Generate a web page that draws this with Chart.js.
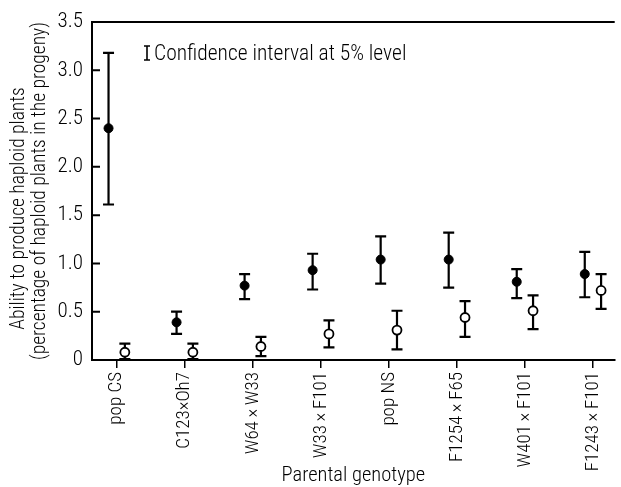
<!DOCTYPE html>
<html>
<head>
<meta charset="utf-8">
<script src="https://cdn.jsdelivr.net/npm/chart.js@4.4.1/dist/chart.umd.min.js"></script>
<style>
  html, body { margin: 0; padding: 0; background: #fff; }
</style>
</head>
<body>
<canvas id="chart" width="621" height="487"></canvas>
<script>
// genotypes along the x axis
const categories = ["pop CS", "C123×Oh7", "W64\u2009×\u2009W33", "W33\u2009×\u2009F101", "pop NS", "F1254\u2009×\u2009F65", "W401\u2009×\u2009F101", "F1243\u2009×\u2009F101"];

// filled dots
const filledMean = [2.40, 0.39, 0.77, 0.93, 1.04, 1.04, 0.81, 0.89];
const filledLow  = [1.61, 0.27, 0.63, 0.73, 0.79, 0.75, 0.64, 0.65];
const filledHigh = [3.18, 0.50, 0.89, 1.10, 1.28, 1.32, 0.94, 1.12];

// open dots
const openMean = [0.08, 0.08, 0.14, 0.27, 0.31, 0.44, 0.51, 0.72];
const openLow  = [0.01, 0.01, 0.04, 0.13, 0.11, 0.24, 0.32, 0.53];
const openHigh = [0.17, 0.17, 0.24, 0.41, 0.51, 0.61, 0.67, 0.89];

const yTicks = [0, 0.5, 1.0, 1.5, 2.0, 2.5, 3.0, 3.5];

const FONT = "'Roboto Condensed', Roboto, sans-serif";
const WEIGHT = 300;
const SHIFT = 0.12;

function points(mean, low, high, shift) {
    return mean.map((v, i) => ({ x: i + shift, y: v, lo: low[i], hi: high[i] }));
}

// error bars with caps
const errorBars = {
    id: "errorBars",
    beforeDatasetsDraw(chart) {
        const ctx = chart.ctx;
        const y = chart.scales.y;
        ctx.save();
        ctx.strokeStyle = "#000";
        ctx.lineWidth = 2.2;
        chart.data.datasets.forEach((ds, di) => {
            const meta = chart.getDatasetMeta(di);
            meta.data.forEach((pt, i) => {
                const d = ds.data[i];
                const top = y.getPixelForValue(d.hi);
                const bot = y.getPixelForValue(d.lo);
                ctx.beginPath();
                ctx.moveTo(pt.x, top);
                ctx.lineTo(pt.x, bot);
                ctx.moveTo(pt.x - 5.5, top);
                ctx.lineTo(pt.x + 5.5, top);
                ctx.moveTo(pt.x - 5.5, bot);
                ctx.lineTo(pt.x + 5.5, bot);
                ctx.stroke();
            });
        });
        ctx.restore();
    }
};

// inward y ticks, top border line and the note
const frame = {
    id: "frame",
    afterDraw(chart) {
        const ctx = chart.ctx;
        const a = chart.chartArea;
        const y = chart.scales.y;
        ctx.save();
        ctx.strokeStyle = "#000";
        ctx.lineWidth = 2;
        ctx.beginPath();
        ctx.moveTo(a.left, a.top);
        ctx.lineTo(a.right, a.top);
        yTicks.forEach(v => {
            const py = y.getPixelForValue(v);
            ctx.moveTo(a.left, py);
            ctx.lineTo(a.left + 8, py);
        });
        ctx.stroke();

        // confidence interval note
        const gx = a.left + 55, gy = a.top + 24;
        ctx.lineWidth = 1.6;
        ctx.beginPath();
        ctx.moveTo(gx, gy);
        ctx.lineTo(gx, gy + 14);
        ctx.moveTo(gx - 3, gy);
        ctx.lineTo(gx + 3, gy);
        ctx.moveTo(gx - 3, gy + 14);
        ctx.lineTo(gx + 3, gy + 14);
        ctx.stroke();
        ctx.fillStyle = "#000";
        ctx.font = WEIGHT + " 21.5px " + FONT;
        ctx.textBaseline = "alphabetic";
        ctx.fillText("Confidence interval at 5% level", gx + 7, gy + 14);
        ctx.restore();
    }
};

new Chart(document.getElementById("chart"), {
    type: "scatter",
    data: {
        datasets: [
            {
                label: "filled",
                data: points(filledMean, filledLow, filledHigh, -SHIFT),
                pointRadius: 4.5,
                pointBackgroundColor: "#000",
                pointBorderColor: "#000",
                pointBorderWidth: 1
            },
            {
                label: "open",
                data: points(openMean, openLow, openHigh, SHIFT),
                pointRadius: 4.5,
                pointBackgroundColor: "#fff",
                pointBorderColor: "#000",
                pointBorderWidth: 1.8
            }
        ]
    },
    options: {
        responsive: false,
        animation: false,
        devicePixelRatio: 1,
        layout: { padding: { top: 22, right: 0, left: 0, bottom: 0 } },
        plugins: {
            legend: { display: false },
            tooltip: { enabled: false }
        },
        scales: {
            x: {
                type: "linear",
                min: -0.363,
                max: 7.32,
                afterBuildTicks: s => { s.ticks = categories.map((c, i) => ({ value: i })); },
                afterFit: s => { s.height = 127; },
                grid: { drawOnChartArea: false, drawTicks: true, tickLength: 8, color: "#000", lineWidth: 1.5 },
                border: { color: "#000", width: 2 },
                ticks: {
                    autoSkip: false,
                    minRotation: 90,
                    maxRotation: 90,
                    padding: 4,
                    color: "#000",
                    font: { family: FONT, size: 19, weight: WEIGHT },
                    callback: v => categories[v] ?? ""
                },
                title: {
                    display: true,
                    text: "Parental genotype",
                    color: "#000",
                    font: { family: FONT, size: 20.5, weight: WEIGHT, lineHeight: 1.05 },
                    padding: { top: 0, bottom: 0 }
                }
            },
            y: {
                min: 0,
                max: 3.5,
                afterBuildTicks: s => { s.ticks = yTicks.map(v => ({ value: v })); },
                afterFit: s => { s.width = 92; },
                grid: { drawOnChartArea: false, drawTicks: false },
                border: { color: "#000", width: 2 },
                ticks: {
                    padding: 9,
                    color: "#000",
                    font: { family: FONT, size: 21, weight: WEIGHT },
                    callback: v => v === 0 ? "0" : v.toFixed(1)
                },
                title: {
                    display: true,
                    text: ["Ability to produce haploid plants\u00a0\u00a0\u00a0\u00a0\u00a0\u00a0\u00a0\u00a0", "(percentage of haploid plants in the progeny)"],
                    color: "#000",
                    font: { family: FONT, size: 19.5, weight: WEIGHT, lineHeight: 1.08 },
                    padding: { top: 9, bottom: 0 }
                }
            }
        }
    },
    plugins: [errorBars, frame]
});
</script>
</body>
</html>
